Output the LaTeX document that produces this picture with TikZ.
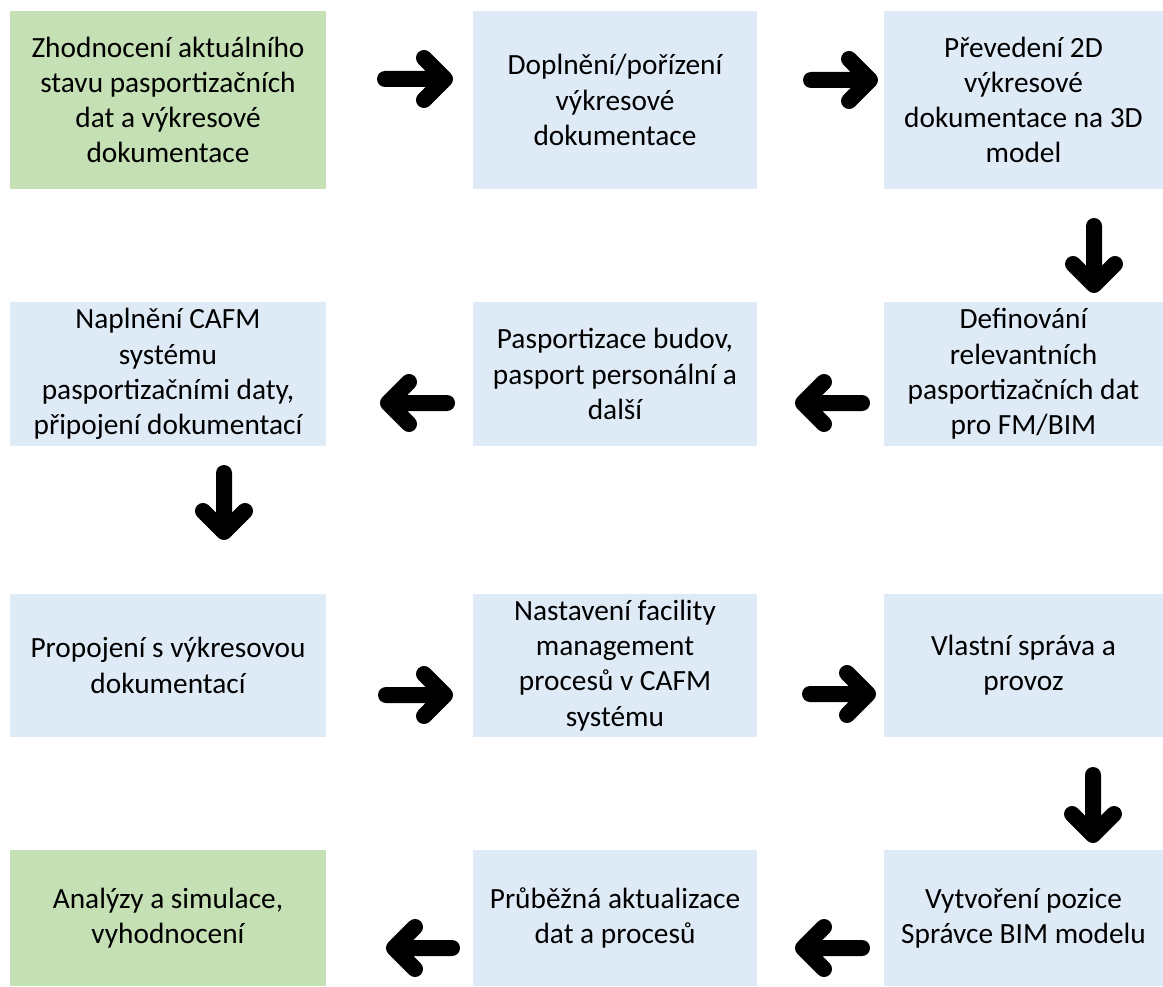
\documentclass[tikz,border=0pt]{standalone}
\usepackage{fontspec}
\setmainfont{Carlito}
\definecolor{boxgreen}{HTML}{C5E0B4}
\definecolor{boxblue}{HTML}{DEEBF7}
\tikzset{
  stepbox/.style={fill=boxblue, draw=none, align=center, inner sep=0pt,
    font=\fontsize{22}{26.4}\selectfont, text=black},
  endbox/.style={stepbox, fill=boxgreen},
  sz/.style 2 args={minimum width=#1*0.75pt, minimum height=#2*0.75pt},
  flowarrow/.style={draw=black, line width=12pt, line cap=round, line join=round},
}
\begin{document}
\begin{tikzpicture}[x=0.75pt,y=-0.75pt]
\useasboundingbox (0,0) rectangle (1163,987);
\fill[white] (0,0) rectangle (1163,987);

% row 1
\node[endbox, sz={316}{178}] (n1) at (168,100)
  {Zhodnocení aktuálního\\stavu pasportizačních\\dat a výkresové\\dokumentace};
\node[stepbox, sz={284}{178}] (n2) at (615,100)
  {Doplnění/pořízení\\výkresové\\dokumentace};
\node[stepbox, sz={279}{178}] (n3) at (1023.5,100)
  {Převedení 2D\\výkresové\\dokumentace na 3D\\model};

% row 2
\node[stepbox, sz={279}{144}] (n4) at (1023.5,374)
  {Definování\\relevantních\\pasportizačních dat\\pro FM/BIM};
\node[stepbox, sz={284}{144}] (n5) at (615,374)
  {Pasportizace budov,\\pasport personální a\\další};
\node[stepbox, sz={316}{144}] (n6) at (168,374)
  {Naplnění CAFM\\systému\\pasportizačními daty,\\připojení dokumentací};

% row 3
\node[stepbox, sz={316}{143}] (n7) at (168,665.5)
  {Propojení s výkresovou\\dokumentací};
\node[stepbox, sz={284}{143}] (n8) at (615,665.5)
  {Nastavení facility\\management\\procesů v CAFM\\systému};
\node[stepbox, sz={279}{143}] (n9) at (1023.5,665.5)
  {Vlastní správa a\\provoz};

% row 4
\node[stepbox, sz={279}{136}] (n10) at (1023.5,918)
  {Vytvoření pozice\\Správce BIM modelu};
\node[stepbox, sz={284}{136}] (n11) at (615,918)
  {Průběžná aktualizace\\dat a procesů};
\node[endbox, sz={316}{136}] (n12) at (168,918)
  {Analýzy a simulace,\\vyhodnocení};

% arrow end points
\coordinate (a1s) at (385,79);   \coordinate (a1t) at (445,79);
\coordinate (a2s) at (811,80);   \coordinate (a2t) at (870,80);
\coordinate (d1s) at (1094,226); \coordinate (d1t) at (1094,285);
\coordinate (a3s) at (862,403);  \coordinate (a3t) at (803,403);
\coordinate (a4s) at (447,403);  \coordinate (a4t) at (388,403);
\coordinate (d2s) at (224,473);  \coordinate (d2t) at (224,532);
\coordinate (a5s) at (386,695);  \coordinate (a5t) at (445,695);
\coordinate (a6s) at (810,694);  \coordinate (a6t) at (868,694);
\coordinate (d3s) at (1093,775); \coordinate (d3t) at (1093,835);
\coordinate (a7s) at (862,948);  \coordinate (a7t) at (803,948);
\coordinate (a8s) at (452,948);  \coordinate (a8t) at (394,948);

% rightward arrows
\foreach \a in {a1,a2,a5,a6}
  \draw[flowarrow] (\a s) -- (\a t) +(-21,-21) -- (\a t) -- +(-21,21);
% leftward arrows
\foreach \a in {a3,a4,a7,a8}
  \draw[flowarrow] (\a s) -- (\a t) +(21,-21) -- (\a t) -- +(21,21);
% downward arrows
\foreach \a in {d1,d2,d3}
  \draw[flowarrow] (\a s) -- (\a t) +(-21,-21) -- (\a t) -- +(21,-21);
\end{tikzpicture}
\end{document}
